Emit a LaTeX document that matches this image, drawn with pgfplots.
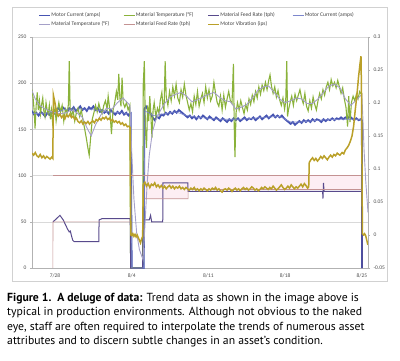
\documentclass[border=0pt]{standalone}
\usepackage{pgfplots}
\pgfplotsset{compat=1.18}
\usepackage{fontspec}
\setmainfont{Carlito}
\newfontfamily\capfont{PT Sans}
\definecolor{mcur}{RGB}{70,84,178}
\definecolor{mtemp}{RGB}{138,178,58}
\definecolor{mfeed}{RGB}{88,74,140}
\definecolor{mcurb}{RGB}{125,135,205}
\definecolor{mtempb}{RGB}{165,160,200}
\definecolor{mfeedb}{RGB}{196,146,146}
\definecolor{mvib}{RGB}{186,160,40}
\definecolor{pinkband}{RGB}{253,238,243}
\begin{document}
\begin{tikzpicture}
\useasboundingbox (0pt,0pt) rectangle (400pt,-360pt);
\draw[black!18, line width=0.6pt] (12pt,-7pt) rectangle (387pt,-281pt);
\begin{axis}[
  at={(32pt,-268pt)}, anchor=south west, scale only axis,
  width=336pt, height=231pt,
  xmin=-2.1, xmax=28.56, ymin=0, ymax=250,
  ytick={0,50,100,150,200,250},
  xtick={0,7,14,21,28}, xticklabels={7/28,8/4,8/11,8/18,8/25},
  major x tick style={draw=none},
  extra x ticks={3.05,8.15,13.25,18.35,23.45},
  extra x tick labels={},
  extra x tick style={major tick length=3pt, tick align=outside, tick style={black!30}},
  axis y line*=left, axis x line*=bottom,
  axis line style={black!30, line width=0.5pt},
  ytick style={black!30}, tick align=outside, major tick length=2pt,
  ymajorgrids, grid style={black!15, line width=0.5pt},
  ticklabel style={font=\fontsize{5.5}{6}\selectfont, text=black!70},
  /pgf/number format/assume math mode=true,
  unbounded coords=jump,
]
% pink band
\addplot[draw=none, fill=pinkband] coordinates {(8.2,75) (12.14,75) (12.14,85) (27.95,85) (27.95,100) (8.2,100) (8.2,75)};
% Motor current (blue)
\addplot[mcur, line width=1.8pt] coordinates {
(-2.1,170)(-1.9,166)(-1.7,168)(-1.5,165)(-1.3,169)(-1.1,167)(-0.9,164)(-0.7,168)(-0.5,166)(-0.3,169)(-0.1,167)(0.1,171)(0.3,173)(0.5,170)(0.7,174)(0.9,172)(1.1,169)(1.3,173)(1.5,171)(1.7,174)(1.9,170)(2.1,172)(2.3,175)(2.5,171)(2.7,173)(2.9,170)(3.1,174)(3.3,172)(3.5,175)(3.7,171)(3.9,173)(4.1,169)(4.3,171)(4.5,168)(4.7,170)(4.9,167)(5.1,171)(5.3,168)(5.5,166)(5.7,169)(5.9,167)(6.1,170)(6.3,166)(6.5,168)(6.7,165)(6.9,167)(7.0,0)(8.1,0)
(8.15,172)(8.3,175)(8.5,171)(8.7,168)(8.9,163)(9.1,160)(9.3,164)(9.5,162)(9.7,166)(9.9,165)(10.1,168)(10.3,166)(10.5,169)(10.7,167)(10.9,170)(11.1,168)(11.3,171)(11.5,169)(11.7,167)(11.9,165)(12.1,163)(12.3,165)(12.5,162)(12.7,164)(12.9,161)(13.1,164)(13.3,162)(13.5,165)(13.7,163)(13.9,161)(14.1,164)(14.3,162)(14.5,160)(14.7,163)(14.9,161)(15.1,159)(15.3,162)(15.5,160)(15.7,158)(15.9,161)(16.1,159)(16.3,162)(16.5,160)(16.7,162)(16.9,159)(17.1,161)(17.3,163)(17.5,160)(17.7,162)(17.9,161)(18.1,163)(18.3,160)(18.5,162)(18.7,164)(18.9,161)(19.1,163)(19.3,165)(19.5,162)(19.7,164)(19.9,166)(20.1,163)(20.3,165)(20.5,163)(20.7,165)(20.9,162)(21.1,160)(21.3,158)(21.5,156)(21.7,158)(21.9,155)(22.1,157)(22.3,159)(22.5,157)(22.7,160)(22.9,158)(23.1,160)(23.3,158)(23.5,161)(23.7,159)(23.9,161)(24.1,160)(24.3,158)(24.5,161)(24.7,159)(24.9,161)(25.1,160)(25.3,162)(25.5,160)(25.7,162)(25.9,161)(26.1,163)(26.3,161)(26.5,163)(26.7,162)(26.9,164)(27.1,162)(27.3,160)(27.5,162)(27.7,160)(27.9,161)(28.0,160)(28.02,0)};
% Material temperature (green)
\addplot[mtemp, line width=1.1pt] coordinates {
(-2.1,193)(-2.0,184)(-1.9,170)(-1.82,151)(-1.72,176)(-1.62,190)(-1.52,171)(-1.42,181)(-1.32,167)(-1.22,177)(-1.12,184)(-1.02,170)(-0.92,164)(-0.82,179)(-0.72,171)(-0.62,167)(-0.52,176)(-0.42,161)(-0.32,171)(-0.22,157)(-0.12,166)(0.0,173)(0.1,159)(0.2,168)(0.35,179)(0.5,169)(0.65,176)(0.8,159)(0.95,172)(1.1,167)(1.22,177)(1.3,224)(1.38,171)(1.5,164)(1.65,171)(1.8,159)(1.95,168)(2.1,173)(2.25,164)(2.4,171)(2.55,160)(2.7,151)(2.85,141)(3.0,130)(3.12,122)(3.25,141)(3.4,161)(3.55,168)(3.7,176)(3.85,169)(4.0,178)(4.15,171)(4.3,167)(4.45,176)(4.6,181)(4.75,172)(4.85,186)(4.95,176)(5.05,163)(5.15,145)(5.3,171)(5.45,179)(5.6,191)(5.72,182)(5.82,210)(5.92,184)(6.02,175)(6.12,206)(6.22,179)(6.37,174)(6.52,179)(6.67,171)(6.82,176)(6.9,0)(8.0,0)
(8.05,198)(8.15,224)(8.25,150)(8.35,130)(8.45,176)(8.55,159)(8.65,186)(8.75,164)(8.85,141)(8.95,171)(9.05,179)(9.2,164)(9.35,173)(9.5,167)(9.6,181)(9.75,190)(9.85,175)(9.95,171)(10.05,224)(10.15,185)(10.3,176)(10.45,191)(10.6,181)(10.75,196)(10.9,186)(11.05,199)(11.2,184)(11.35,179)(11.5,193)(11.65,185)(11.8,199)(11.95,187)(12.1,179)(12.25,171)(12.4,178)(12.55,169)(12.7,186)(12.85,177)(13.0,191)(13.15,175)(13.3,183)(13.45,189)(13.6,179)(13.75,196)(13.9,184)(14.05,193)(14.2,181)(14.35,186)(14.5,201)(14.65,189)(14.8,179)(14.95,175)(15.1,186)(15.25,171)(15.4,187)(15.55,174)(15.7,183)(15.85,191)(16.0,181)(16.15,178)(16.28,221)(16.36,150)(16.42,120)(16.52,168)(16.65,179)(16.8,171)(16.95,181)(17.1,174)(17.25,167)(17.4,177)(17.55,171)(17.7,183)(17.85,177)(18.0,187)(18.15,180)(18.3,191)(18.45,184)(18.6,196)(18.75,188)(18.9,198)(19.05,192)(19.2,201)(19.35,193)(19.5,203)(19.62,209)(19.75,197)(19.9,189)(20.05,196)(20.2,185)(20.35,192)(20.5,182)(20.65,176)(20.8,184)(20.95,172)(21.05,180)(21.15,224)(21.22,164)(21.3,171)(21.45,179)(21.6,186)(21.75,176)(21.9,188)(22.05,181)(22.2,187)(22.35,193)(22.5,184)(22.65,178)(22.8,189)(22.95,175)(23.1,170)(23.25,181)(23.4,173)(23.55,185)(23.7,177)(23.85,171)(24.0,181)(24.15,189)(24.3,183)(24.45,193)(24.6,187)(24.75,196)(24.9,201)(25.05,193)(25.2,204)(25.35,197)(25.5,201)(25.65,195)(25.8,203)(25.95,196)(26.1,189)(26.25,195)(26.4,183)(26.55,174)(26.7,153)(26.8,186)(26.92,158)(27.05,179)(27.2,186)(27.35,181)(27.5,188)(27.65,183)(27.8,191)(27.95,188)};
% Material feed rate (dark purple)
\addplot[mfeed, line width=1.0pt] coordinates {
(-0.18,50)(0.1,53)(0.45,57)(0.75,52)(0.95,47)(1.15,42)(1.3,39)(1.4,40)(1.5,35)(1.62,30)(1.75,28.5)(4.0,28.5)(4.02,52)(4.3,53.5)(6.86,53.5)(6.9,0)(8.0,0)(8.03,52)(8.6,52)(8.72,57)(8.82,50)(9.83,50)(9.85,92)(12.12,92)(12.14,83)(24.42,83)(24.45,75)(24.5,92)(24.55,83)(28.0,83)(28.02,0)};
% Motor current 2 (smoothed)
\addplot[mcurb, line width=0.6pt] coordinates {
(-2.1,167)(0,168)(1,172)(3,172)(5,169)(6.9,167)(7.0,0)(8.1,0)(8.2,170)(9,165)(10,167)(11,169)(12,165)(13,163)(15,161)(17,161)(19,163)(20.5,164)(21.5,158)(22.5,158)(24,160)(26,161)(28,161)};
% Material temperature 2 (smoothed)
\addplot[mtempb, line width=0.9pt] coordinates {
(-2.1,192)(-1.8,183)(-1.4,176)(-1.0,173)(-0.5,170)(0,168)(0.5,167)(1.0,168)(1.5,171)(2.0,168)(2.5,163)(2.9,152)(3.3,143)(3.7,155)(4.2,166)(4.7,173)(5.2,172)(5.7,179)(6.2,184)(6.6,179)(6.84,176)(6.99,128)(7.2,75)(7.45,38)(7.7,20)(8.03,9)(8.2,45)(8.4,90)(8.6,122)(8.9,148)(9.2,160)(9.6,170)(10.0,178)(10.5,185)(11.0,188)(11.5,190)(12.0,186)(12.5,180)(13.0,182)(13.5,185)(14.0,188)(14.5,190)(15.0,185)(15.5,181)(16.0,180)(16.5,172)(17.0,174)(17.5,177)(18.0,184)(18.5,192)(19.0,196)(19.5,197)(20.0,190)(20.5,183)(21.0,179)(21.5,181)(22.0,184)(22.5,183)(23.0,178)(23.5,178)(24.0,183)(24.5,190)(25.0,197)(25.5,199)(26.0,195)(26.5,183)(27.0,176)(27.5,182)(28.0,188)(28.1,160)(28.2,128)(28.35,95)(28.56,60)};
% Material feed rate 2 (limits)
\addplot[mfeedb, line width=0.6pt] coordinates {(-0.18,100)(27.95,100)};
\addplot[mfeedb, line width=0.6pt] coordinates {(-0.2,0)(-0.18,50)(6.9,50)(6.9,nan)(8.2,75)(12.14,75)(12.14,85)(27.95,85)};
\end{axis}
\begin{axis}[
  at={(32pt,-268pt)}, anchor=south west, scale only axis,
  width=336pt, height=231pt,
  xmin=-2.1, xmax=28.56, ymin=-0.05, ymax=0.3,
  axis y line*=right, axis x line=none,
  axis line style={black!30, line width=0.5pt},
  ytick={-0.05,0,0.05,0.1,0.15,0.2,0.25,0.3},
  yticklabels={-0.05,0,0.05,0.1,0.15,0.2,0.25,0.3},
  ytick style={black!30}, tick align=outside, major tick length=2pt,
  ticklabel style={font=\fontsize{5.5}{6}\selectfont, text=black!70},
  /pgf/number format/assume math mode=true,
  legend columns=4,
  legend image code/.code={\draw[#1] (0pt,0pt) -- (11pt,0pt);},
  legend style={at={(axis description cs:0.019,1.108)}, anchor=north west,
    draw=none, fill=none, inner sep=0pt, row sep=3pt,
    font=\fontsize{5.5}{6}\selectfont, text=black!75,
    nodes={inner sep=0.5pt, text height=4pt, text depth=1pt, anchor=west}},
]
\addlegendimage{mcur, line width=1.4pt}
\addlegendentry{\makebox[71pt][l]{Motor Current (amps)}}
\addlegendimage{mtemp, line width=1.4pt}
\addlegendentry{\makebox[71pt][l]{Material Temperature (°F)}}
\addlegendimage{mfeed, line width=1.4pt}
\addlegendentry{\makebox[71pt][l]{Material Feed Rate (tph)}}
\addlegendimage{mcurb, line width=1.4pt}
\addlegendentry{\makebox[71pt][l]{Motor Current (amps)}}
\addlegendimage{mtempb, line width=1.4pt}
\addlegendentry{\makebox[71pt][l]{Material Temperature (°F)}}
\addlegendimage{mfeedb, line width=1.4pt}
\addlegendentry{\makebox[71pt][l]{Material Feed Rate (tph)}}
\addplot[mvib, line width=1.5pt] coordinates {
(-2.1,.124)(-1.95,.121)(-1.8,.125)(-1.65,.120)(-1.5,.118)(-1.35,.122)(-1.2,.117)(-1.05,.120)(-0.9,.116)(-0.75,.119)(-0.6,.117)(-0.45,.115)(-0.3,.118)(-0.2,.116)(-0.15,.212)(0.0,.200)(0.15,.185)(0.3,.180)(0.45,.183)(0.6,.178)(0.75,.181)(0.9,.176)(1.05,.182)(1.2,.179)(1.35,.183)(1.5,.178)(1.65,.180)(1.8,.175)(1.95,.177)(2.1,.172)(2.25,.170)(2.4,.173)(2.55,.168)(2.7,.171)(2.85,.169)(3.0,.172)(3.15,.168)(3.3,.171)(3.45,.173)(3.6,.170)(3.75,.175)(3.9,.173)(4.05,.177)(4.2,.174)(4.35,.178)(4.5,.176)(4.65,.179)(4.8,.175)(4.95,.177)(5.1,.173)(5.25,.175)(5.4,.171)(5.55,.173)(5.7,.170)(5.85,.172)(6.0,.168)(6.15,.170)(6.3,.166)(6.45,.168)(6.6,.164)(6.75,.165)(6.85,.163)(6.92,.000)(7.0,-.001)(7.1,.002)(7.2,-.002)(7.3,.001)(7.4,-.003)(7.5,.000)(7.6,-.004)(7.7,-.008)(7.8,-.012)(7.9,-.006)(8.0,-.002)
(8.05,.076)(8.2,.080)(8.35,.074)(8.5,.078)(8.65,.072)(8.8,.077)(8.95,.075)(9.1,.079)(9.25,.073)(9.4,.076)(9.55,.072)(9.7,.075)(9.85,.071)(10.0,.074)(10.15,.070)(10.3,.073)(10.45,.075)(10.6,.071)(10.75,.074)(10.9,.070)(11.05,.073)(11.2,.071)(11.35,.074)(11.5,.070)(11.65,.072)(11.8,.069)(11.95,.072)(12.1,.070)(12.25,.068)(12.4,.071)(12.55,.069)(12.7,.072)(12.85,.068)(13.0,.070)(13.15,.067)(13.3,.070)(13.45,.068)(13.6,.071)(13.75,.069)(13.9,.067)(14.05,.070)(14.2,.068)(14.35,.071)(14.5,.069)(14.65,.072)(14.8,.068)(14.95,.070)(15.1,.067)(15.25,.065)(15.4,.069)(15.55,.070)(15.7,.068)(15.85,.071)(16.0,.069)(16.15,.066)(16.3,.069)(16.45,.071)(16.6,.068)(16.75,.070)(16.9,.067)(17.05,.070)(17.2,.072)(17.35,.069)(17.5,.071)(17.65,.068)(17.8,.070)(17.95,.073)(18.1,.071)(18.25,.068)(18.4,.070)(18.55,.067)(18.7,.069)(18.85,.072)(19.0,.070)(19.15,.073)(19.3,.071)(19.45,.069)(19.6,.072)(19.75,.070)(19.9,.074)(20.05,.071)(20.2,.068)(20.35,.070)(20.5,.073)(20.65,.076)(20.8,.072)(20.95,.069)(21.1,.071)(21.25,.074)(21.4,.071)(21.55,.076)(21.7,.073)(21.85,.070)(22.0,.073)(22.15,.071)(22.3,.074)(22.45,.077)(22.6,.073)(22.75,.078)(22.9,.075)(23.05,.071)(23.15,.073)(23.2,.110)(23.35,.114)(23.5,.117)(23.65,.113)(23.8,.116)(23.95,.112)(24.1,.115)(24.25,.119)(24.4,.116)(24.55,.120)(24.7,.117)(24.85,.114)(25.0,.118)(25.15,.121)(25.3,.118)(25.45,.122)(25.6,.120)(25.75,.124)(25.9,.122)(26.0,.121)(26.2,.125)(26.35,.123)(26.5,.129)(26.65,.132)(26.8,.136)(26.95,.142)(27.1,.150)(27.25,.165)(27.4,.190)(27.55,.212)(27.7,.240)(27.85,.262)(27.92,.271)(27.98,.200)(28.05,.002)(28.15,.000)(28.25,.002)(28.35,-.001)(28.45,-.008)(28.55,-.015)};
\addlegendentry{Motor Vibration (ips)}
\end{axis}
\node[anchor=base west, inner sep=0pt, font=\capfont\fontsize{11.7}{14}\selectfont] at (7pt,-301.5pt) {\textbf{Figure 1.\ \ A deluge of data:} Trend data as shown in the image above is};
\node[anchor=base west, inner sep=0pt, font=\capfont\fontsize{11.7}{14}\selectfont] at (7pt,-315.7pt) {typical in production environments. Although not obvious to the naked};
\node[anchor=base west, inner sep=0pt, font=\capfont\fontsize{11.7}{14}\selectfont] at (7pt,-330pt) {eye, staff are often required to interpolate the trends of numerous asset};
\node[anchor=base west, inner sep=0pt, font=\capfont\fontsize{11.7}{14}\selectfont] at (7pt,-344.2pt) {attributes and to discern subtle changes in an asset’s condition.};
\end{tikzpicture}
\end{document}
